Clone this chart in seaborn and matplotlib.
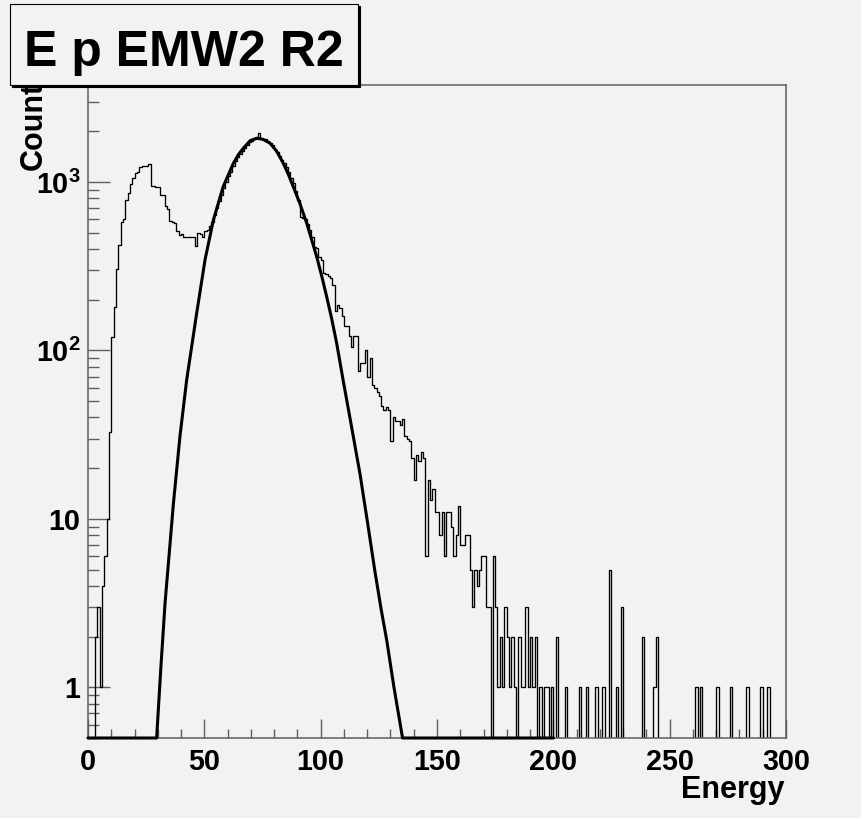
import numpy as np
import pandas as pd
import matplotlib
matplotlib.use("Agg")
import matplotlib.pyplot as plt
import seaborn as sns
from matplotlib.ticker import FixedLocator, FixedFormatter, MultipleLocator, LogLocator, NullFormatter
from matplotlib.patches import Rectangle

# ---------------- data ----------------
title = "E p EMW2 R2"
x_title = "Energy"
y_title = "Counts"

bin_low, bin_high, n_bins = 0, 300, 300

counts = [
    # 0-9
    0, 0, 0, 2, 3, 1, 4, 6, 10, 33,
    # 10-19
    120, 180, 305, 420, 580, 600, 780, 860, 975, 1050,
    # 20-29
    1130, 1140, 1230, 1240, 1240, 1250, 1280, 950, 950, 940,
    # 30-39
    940, 840, 840, 720, 690, 585, 575, 570, 510, 485,
    # 40-49
    490, 474, 474, 474, 474, 474, 417, 500, 490, 470,
    # 50-59
    510, 520, 545, 580, 640, 700, 770, 840, 920, 1000,
    # 60-69
    1080, 1150, 1240, 1330, 1400, 1470, 1530, 1600, 1660, 1720,
    # 70-79
    1760, 1790, 1820, 1960, 1830, 1800, 1790, 1740, 1700, 1650,
    # 80-89
    1580, 1500, 1430, 1350, 1290, 1220, 1140, 1060, 980, 880,
    # 90-99
    780, 620, 610, 600, 560, 520, 470, 413, 405, 360,
    # 100-109
    345, 290, 285, 275, 270, 245, 172, 186, 178, 160,
    # 110-119
    140, 140, 122, 105, 122, 122, 75, 84, 84, 100,
    # 120-129
    70, 90, 62, 60, 57, 54, 47, 44, 46, 44,
    # 130-139
    29, 40, 38, 38, 36, 39, 31, 30, 29, 23,
    # 140-149
    17, 24, 22, 25, 23, 6, 17, 13, 15, 11,
    # 150-159
    11, 8, 11, 6, 11, 11, 9, 6, 8, 12,
    # 160-169
    7, 7, 8, 8, 5, 3, 5, 4, 5, 6,
    # 170-179
    6, 3, 3, 0, 6, 3, 1, 2, 1, 3,
    # 180-189
    2, 1, 2, 1, 0, 2, 1, 1, 3, 1,
    # 190-199
    2, 1, 2, 0, 1, 0, 1, 1, 0, 1,
    # 200-209
    0, 2, 0, 0, 0, 1, 0, 0, 0, 0,
    # 210-219
    0, 1, 0, 0, 1, 0, 0, 0, 1, 0,
    # 220-229
    0, 1, 0, 0, 5, 0, 0, 1, 0, 3,
    # 230-239
    0, 0, 0, 0, 0, 0, 0, 0, 2, 0,
    # 240-249
    0, 0, 0, 1, 2, 0, 0, 0, 0, 0,
    # 250-259
    0, 0, 0, 0, 0, 0, 0, 0, 0, 0,
    # 260-269
    0, 1, 0, 1, 0, 0, 0, 0, 0, 0,
    # 270-279
    1, 0, 0, 0, 0, 0, 1, 0, 0, 0,
    # 280-289
    0, 0, 0, 1, 0, 0, 0, 0, 0, 1,
    # 290-299
    0, 0, 1, 0, 0, 0, 0, 0, 0, 0,
]

# fitted curve as drawn (sits on the frame floor outside its non-zero range)
fit_x = [0, 29.5, 31.3, 33.1, 36.7, 39.5, 42.4, 46.7, 50.3, 53.9, 58.1, 62.5,
         64.7, 66.8, 69.7, 72.5, 75.3, 78.2, 81.0, 83.9, 86.0, 88.2, 91.0,
         94.0, 96.0, 98.3, 100.5, 102.6, 104.7, 106.9, 109.7, 113.0, 116.9,
         120.0, 123.3, 126.0, 128.4, 131.5, 135.2, 200]
fit_y = [0.5, 0.5, 1.3, 3.14, 12.3, 30.7, 66.7, 166, 345, 596, 939, 1294,
         1460, 1589, 1760, 1820, 1790, 1700, 1530, 1294, 1120, 939, 750,
         569, 460, 360, 275, 208, 155, 110, 66, 37, 18.5,
         9.8, 4.9, 2.9, 1.9, 1.0, 0.5, 0.5]

x_ticks = [0, 50, 100, 150, 200, 250, 300]
x_tick_labels = ["0", "50", "100", "150", "200", "250", "300"]
y_ticks = [1, 10, 100, 1000]
y_tick_labels = ["1", "10", r"$10^{2}$", r"$10^{3}$"]
y_range = (0.5, 3767)

# ---------------- style ----------------
sns.set_theme(style="ticks")
plt.rcParams["font.family"] = ["Liberation Sans", "DejaVu Sans"]
plt.rcParams["font.weight"] = "bold"
plt.rcParams["mathtext.fontset"] = "custom"
plt.rcParams["mathtext.rm"] = "Liberation Sans:bold"
plt.rcParams["mathtext.bf"] = "Liberation Sans:bold"
plt.rcParams["mathtext.it"] = "Liberation Sans:bold"

BG = "#f2f2f2"
GRAY = "#5e5e5e"
W, H = 862, 818

fig = plt.figure(figsize=(W / 100, H / 100), dpi=100, facecolor=BG)
ax = fig.add_axes([88 / W, 1 - 738 / H, (786 - 88) / W, (738 - 85) / H])
ax.set_facecolor(BG)

edges = np.linspace(bin_low, bin_high, n_bins + 1)
centers = 0.5 * (edges[:-1] + edges[1:])
hist_df = pd.DataFrame({"energy": centers, "counts": counts})
fit_df = pd.DataFrame({"energy": fit_x, "counts": fit_y})

sns.histplot(data=hist_df, x="energy", weights="counts", bins=n_bins,
             binrange=(bin_low, bin_high), element="step", fill=False,
             color="black", linewidth=0.95, ax=ax)
sns.lineplot(data=fit_df, x="energy", y="counts", estimator=None, sort=False,
             color="black", linewidth=2.2, ax=ax, clip_on=False, zorder=4)

ax.set_yscale("log")
ax.set_xlim(bin_low, bin_high)
ax.set_ylim(*y_range)

ax.xaxis.set_major_locator(FixedLocator(x_ticks))
ax.xaxis.set_major_formatter(FixedFormatter(x_tick_labels))
ax.xaxis.set_minor_locator(MultipleLocator(10))
ax.yaxis.set_major_locator(FixedLocator(y_ticks))
ax.yaxis.set_major_formatter(FixedFormatter(y_tick_labels))
ax.yaxis.set_minor_locator(LogLocator(base=10, subs=np.arange(2, 10), numticks=50))
ax.yaxis.set_minor_formatter(NullFormatter())

ax.tick_params(axis="x", which="major", direction="in", length=13.5, width=1,
               color=GRAY, labelsize=20.7, pad=7, labelcolor="black")
ax.tick_params(axis="x", which="minor", direction="in", length=6.5, width=1, color=GRAY)
ax.tick_params(axis="y", which="major", direction="in", length=15.5, width=1,
               color=GRAY, labelsize=20.7, pad=5.5, labelcolor="black")
ax.tick_params(axis="y", which="minor", direction="in", length=7.8, width=1, color=GRAY)
for sp in ax.spines.values():
    sp.set_visible(True)
    sp.set_color(GRAY)
    sp.set_linewidth(1.1)
ax.set_xlabel("")
ax.set_ylabel("")

# axis titles
fig.text(785 / W, 1 - 798 / H, x_title, ha="right", va="baseline",
         fontsize=22, fontweight="bold", color="black")
fig.text(34 / W, 1 - 170 / H, y_title, ha="center", va="bottom", rotation=90,
         fontsize=22, fontweight="bold", color="black", zorder=5)

# title box with shadow
bx0, bx1, by0, by1 = 10, 358, 4, 85
shadow = Rectangle(((bx0 + 2) / W, 1 - (by1 + 2) / H), (bx1 - bx0) / W, (by1 - by0) / H,
                   transform=fig.transFigure, facecolor="black", edgecolor="black",
                   linewidth=0.8, zorder=10)
box = Rectangle((bx0 / W, 1 - by1 / H), (bx1 - bx0) / W, (by1 - by0) / H,
                transform=fig.transFigure, facecolor=BG, edgecolor="black",
                linewidth=0.8, zorder=11)
fig.patches.extend([shadow, box])
fig.text((bx0 + bx1) / 2 / W, 1 - 66 / H, title, ha="center", va="baseline",
         fontsize=36, fontweight="bold", color="black", zorder=12)

fig.savefig("out.png", dpi=100, facecolor=BG)
